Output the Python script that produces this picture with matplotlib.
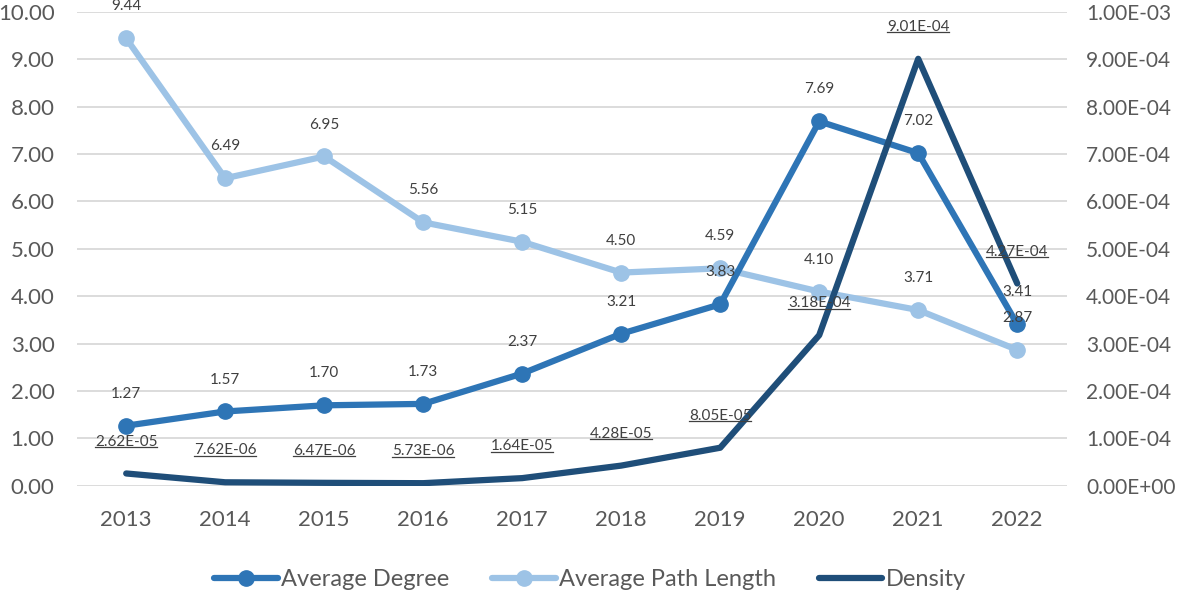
import matplotlib
matplotlib.use("Agg")
import matplotlib.pyplot as plt
from matplotlib.ticker import FuncFormatter, MultipleLocator

# data
years = ["2013", "2014", "2015", "2016", "2017", "2018", "2019", "2020", "2021", "2022"]
avg_degree = [1.27, 1.57, 1.70, 1.73, 2.37, 3.21, 3.83, 7.69, 7.02, 3.41]
avg_path = [9.44, 6.49, 6.95, 5.56, 5.15, 4.50, 4.59, 4.10, 3.71, 2.87]
density = [2.62e-05, 7.62e-06, 6.47e-06, 5.73e-06, 1.64e-05, 4.28e-05, 8.05e-05,
           3.18e-04, 9.01e-04, 4.27e-04]

C_DEG = "#2E75B6"
C_PATH = "#9DC3E6"
C_DEN = "#1F4E79"
TXT = "#404040"
TICK = "#595959"

plt.rcParams["font.family"] = ["Lato", "DejaVu Sans"]

fig = plt.figure(figsize=(11.8, 5.94), dpi=100)
ax = fig.add_axes([0.065, 0.182, 0.839, 0.798])
ax2 = ax.twinx()

x = list(range(len(years)))

ax.plot(x, avg_path, color=C_PATH, lw=4.5, marker="o", ms=11,
        solid_capstyle="round", label="Average Path Length", zorder=3)
ax.plot(x, avg_degree, color=C_DEG, lw=4.5, marker="o", ms=11,
        solid_capstyle="round", label="Average Degree", zorder=4)
ax2.plot(x, density, color=C_DEN, lw=4.5, solid_capstyle="round",
         label="Density", zorder=3)

# axes setup (before measuring labels)
ax.set_xlim(-0.5, len(years) - 0.5)
ax.set_ylim(0, 10)
ax2.set_ylim(0, 1e-3)
ax.set_xticks(x)
ax.set_xticklabels(years)
ax.yaxis.set_major_locator(MultipleLocator(1))
ax2.yaxis.set_major_locator(MultipleLocator(1e-4))
ax.yaxis.set_major_formatter(FuncFormatter(lambda v, p: f"{v:.2f}"))
ax2.yaxis.set_major_formatter(
    FuncFormatter(lambda v, p: "0.00E+00" if abs(v) < 1e-12 else f"{v:.2E}"))

for a in (ax, ax2):
    for sp in a.spines.values():
        sp.set_visible(False)
    a.tick_params(length=0, labelsize=16, labelcolor=TICK)
ax.tick_params(axis="x", pad=17)
ax.tick_params(axis="y", pad=16)
ax2.tick_params(axis="y", pad=14, labelsize=15)
ax.grid(axis="y", color="#D9D9D9", lw=1.3)
ax.set_axisbelow(True)

# data labels
for xi, v in zip(x, avg_degree):
    ax.annotate(f"{v:.2f}", (xi, v), xytext=(0, 23), textcoords="offset points",
                ha="center", va="center", fontsize=11, color=TXT, zorder=6)
for xi, v in zip(x, avg_path):
    ax.annotate(f"{v:.2f}", (xi, v), xytext=(0, 23), textcoords="offset points",
                ha="center", va="center", fontsize=11, color=TXT, zorder=6)
den_labels = []
for xi, v in zip(x, density):
    t = ax2.annotate(f"{v:.2E}", (xi, v), xytext=(0, 23), textcoords="offset points",
                     ha="center", va="center", fontsize=11, color=TXT, zorder=6)
    den_labels.append(t)

h1, l1 = ax.get_legend_handles_labels()
h2, l2 = ax2.get_legend_handles_labels()
handles = [h1[1], h1[0], h2[0]]
labels = [l1[1], l1[0], l2[0]]
fig.legend(handles, labels, loc="center", bbox_to_anchor=(0.5, 0.024), ncol=3,
           frameon=False, fontsize=17, labelcolor=TICK, handlelength=2.7,
           columnspacing=1.8, handletextpad=0.15)

# underline density labels
fig.canvas.draw()
renderer = fig.canvas.get_renderer()
inv = fig.transFigure.inverted()
for t in den_labels:
    bb = t.get_window_extent(renderer)
    (x0, y0), (x1, _) = inv.transform([(bb.x0, bb.y0 + 1.5), (bb.x1, bb.y0 + 1.5)])
    fig.add_artist(plt.Line2D([x0, x1], [y0, y0], color=TXT, lw=0.9,
                              transform=fig.transFigure, zorder=7))

fig.savefig("out.png", dpi=100)
